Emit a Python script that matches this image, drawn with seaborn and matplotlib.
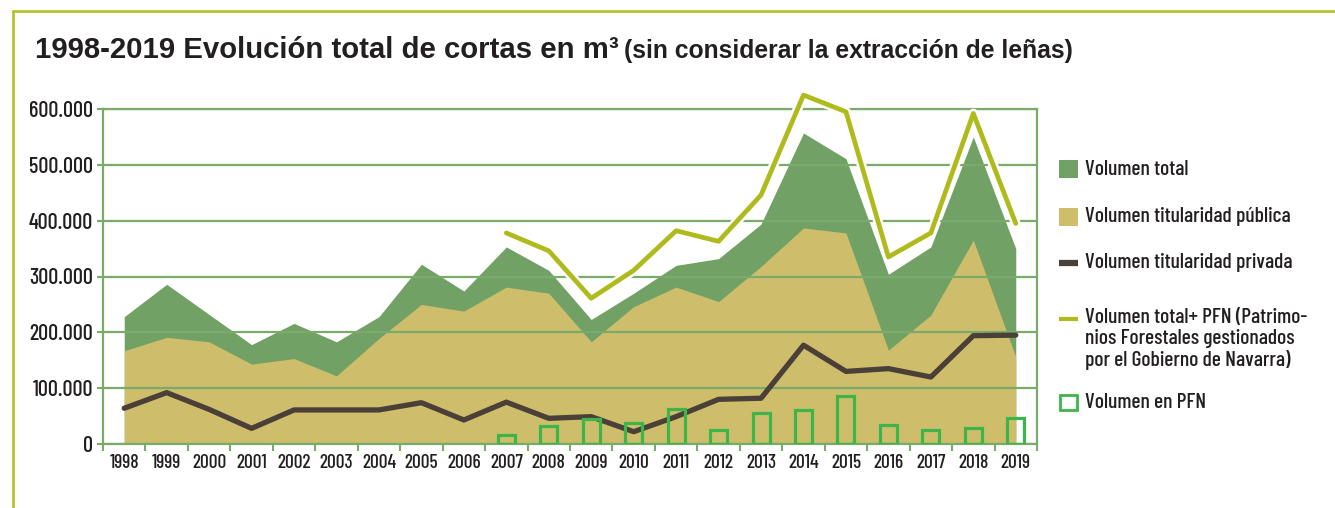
import numpy as np
import matplotlib
matplotlib.use('Agg')
import matplotlib.pyplot as plt
import matplotlib.patheffects as pe
from matplotlib import font_manager as fm
from matplotlib.lines import Line2D
from matplotlib.patches import Rectangle
import seaborn as sns

# datos (m3)
years = [str(y) for y in range(1998, 2020)]
vol_total = [228000, 286000, 232000, 178000, 216000, 183000, 228000, 322000, 274000, 353000, 311000,
             223000, 270000, 320000, 332000, 394000, 557000, 511000, 304000, 353000, 550000, 350000]
vol_publica = [167000, 191000, 183000, 143000, 153000, 122000, 189000, 250000, 238000, 281000, 270000,
               183000, 246000, 281000, 255000, 318000, 387000, 378000, 168000, 231000, 365000, 156000]
vol_privada = [64000, 92000, 62000, 28000, 61000, 61000, 61000, 74000, 43000, 75000, 46000,
               49000, 22000, 49000, 80000, 82000, 177000, 130000, 135000, 120000, 194000, 195000]
pfn_years = [str(y) for y in range(2007, 2020)]
vol_total_pfn = [378000, 346000, 261000, 311000, 382000, 363000, 446000, 625000, 595000,
                 335000, 378000, 592000, 395000]
vol_pfn = [17000, 32000, 44000, 37000, 62000, 25000, 56000, 61000, 86000, 34000, 25000, 28000, 46000]

labels = ['Volumen total', 'Volumen titularidad pública', 'Volumen titularidad privada',
          'Volumen total+ PFN (Patrimo-\nnios Forestales gestionados\npor el Gobierno de Navarra)',
          'Volumen en PFN']

c_total = '#72a166'
c_pub = '#cebe6c'
c_priv = '#4a4038'
c_ypfn = '#afbb1c'
c_pfn = '#3db54a'
c_grid = '#7aab6b'
c_frame = '#b5c42a'
c_text = '#231f20'

W, H = 1335, 508

# fuente estrecha tipo DIN
installed = {f.name for f in fm.fontManager.ttflist}
narrow = 'DejaVu Sans'
for cand in ['Barlow Condensed', 'Roboto Condensed', 'Archivo Narrow', 'PT Sans Narrow',
             'Liberation Sans Narrow', 'Oswald']:
    if cand in installed:
        narrow = cand
        break

sns.set_theme(style='white')
plt.rcParams['font.family'] = [narrow, 'DejaVu Sans']
plt.rcParams['font.weight'] = 'medium'

fig = plt.figure(figsize=(W / 100, H / 100), dpi=100)
ax = fig.add_axes([103 / W, 1 - 444 / H, (1037 - 103) / W, (444 - 109) / H])

x = np.arange(len(years))

# barras huecas PFN (eje categorico)
sns.barplot(x=pfn_years, y=vol_pfn, order=years, fill=False, color=c_pfn, linewidth=2.3,
            width=0.4, errorbar=None, ax=ax, zorder=3.5)
for b in ax.patches:
    b.set_edgecolor(c_pfn)
    b.set_facecolor('none')

# areas
ax.fill_between(x, vol_total, color=c_total, lw=0, zorder=1)
ax.fill_between(x, vol_publica, color=c_pub, lw=0, zorder=1)

# lineas
sns.lineplot(x=x, y=vol_privada, color=c_priv, lw=3.8, ax=ax, zorder=3)
x_pfn = x[years.index('2007'):]
sns.lineplot(x=x_pfn, y=vol_total_pfn, color=c_ypfn, lw=3.4, ax=ax, zorder=4, clip_on=False,
             path_effects=[pe.Stroke(linewidth=7, foreground='white'), pe.Normal()])

ax.set_xlim(-0.5, 21.5)
ax.set_ylim(0, 600000)
ax.set_xlabel('')
ax.set_ylabel('')

yt = np.arange(0, 600001, 100000)
ax.set_yticks(yt)
ax.set_yticklabels([f'{v:,.0f}'.replace(',', '.') for v in yt])
ax.set_xticks(x)
ax.set_xticklabels(years)
ax.set_xticks(np.arange(-0.5, 22, 1), minor=True)

ax.set_axisbelow('line')
ax.yaxis.grid(True, color=c_grid, lw=1.6)
ax.xaxis.grid(False)

ax.tick_params(axis='x', which='major', bottom=True, length=0, labelsize=14, pad=7, labelcolor=c_text)
ax.tick_params(axis='x', which='minor', bottom=True, length=5, width=1.5, color=c_grid)
ax.tick_params(axis='y', left=True, length=4, width=1.5, color=c_grid, labelsize=16, pad=3,
               labelcolor=c_text)

for s in ax.spines.values():
    s.set_visible(True)
    s.set_color(c_grid)
    s.set_linewidth(1.6)

# marco
fig.add_artist(Line2D([13 / W, 13 / W], [0, 1 - 11 / H], color=c_frame, lw=2))
fig.add_artist(Line2D([13 / W, 1], [1 - 11 / H, 1 - 11 / H], color=c_frame, lw=2))

# titulo
t1 = fig.text(35 / W, 1 - 58 / H, '1998-2019 Evolución total de cortas en m³', fontsize=21.2,
              fontweight='bold', family=['Liberation Sans', 'DejaVu Sans'], color=c_text, va='baseline')
fig.canvas.draw()
bb = t1.get_window_extent()
fig.text((bb.x1 + 5) / W, 1 - 58 / H, '(sin considerar la extracción de leñas)', fontsize=17.8,
         fontweight='bold', family=['Liberation Sans', 'DejaVu Sans'], color=c_text, va='baseline')

# leyenda
def fx(px):
    return px / W

def fy(py):
    return 1 - py / H

leg_y = [169, 217, 263, 319, 402]
text_y = [169, 217, 263, 339, 403]
kinds = ['patch', 'patch', 'line', 'line', 'hollow']
cols = [c_total, c_pub, c_priv, c_ypfn, c_pfn]
for lab, ly, ty, kind, col in zip(labels, leg_y, text_y, kinds, cols):
    if kind == 'patch':
        fig.add_artist(Rectangle((fx(1059), fy(ly + 8.5)), 19 / W, 17 / H, transform=fig.transFigure,
                                 facecolor=col, edgecolor='none'))
    elif kind == 'hollow':
        fig.add_artist(Rectangle((fx(1060), fy(ly + 7.5)), 17 / W, 15 / H, transform=fig.transFigure,
                                 facecolor='none', edgecolor=col, lw=2))
    else:
        lw = 4.5 if col == c_priv else 3
        fig.add_artist(Line2D([fx(1059), fx(1078)], [fy(ly), fy(ly)], color=col, lw=lw,
                              solid_capstyle='butt'))
    fig.text(fx(1085), fy(ty), lab, fontsize=15.5, color=c_text, va='center', linespacing=1.12)

fig.savefig('out.png', dpi=100)
